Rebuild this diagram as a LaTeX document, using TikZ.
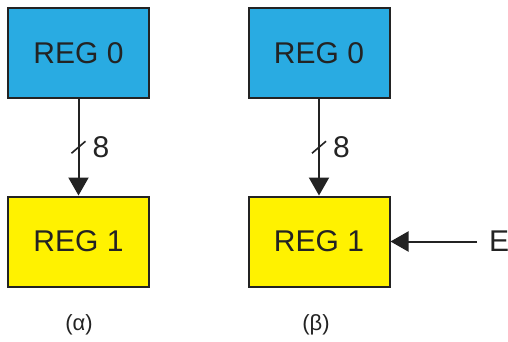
\documentclass[tikz,border=0pt]{standalone}
\usepackage{fontspec}
\setmainfont{Liberation Sans}
\usetikzlibrary{arrows.meta,calc}
\definecolor{regblue}{RGB}{41,171,226}
\definecolor{regyellow}{RGB}{255,242,0}
\definecolor{edgec}{RGB}{35,35,35}
\begin{document}
\begin{tikzpicture}[x=1pt,y=1pt,
  reg/.style={draw=edgec, line width=2pt, minimum width=141pt, minimum height=90pt, inner sep=0pt, font=\fontsize{30}{30}\selectfont, text=edgec},
  conn/.style={draw=edgec, line width=2pt, -{Triangle[length=18pt,width=20pt]}},
  slashline/.style={draw=edgec, line width=1.6pt},
  bigtxt/.style={font=\fontsize{30}{30}\selectfont, text=edgec, inner sep=0pt},
  captxt/.style={font=\fontsize{22}{22}\selectfont, text=edgec, inner sep=0pt}]
\useasboundingbox[fill=white] (0,0) rectangle (508,341);
% (alpha)
\node[reg, fill=regblue] (a0) at (78.5,288) {REG 0};
\node[reg, fill=regyellow] (a1) at (78.5,99.5) {REG 1};
\draw[conn] (a0) -- (a1);
\path (a0.south) -- (a1.north) coordinate[pos=0.5] (sa);
\draw[slashline] ($(sa)+(-7,-6)$) -- ($(sa)+(7,6)$);
\node[bigtxt, anchor=west] (na) at ($(sa)+(14,0)$) {8};
\node[captxt] (la) at (79,16) {(α)};
% (beta)
\node[reg, fill=regblue] (b0) at (319,288) {REG 0};
\node[reg, fill=regyellow] (b1) at (319,99.5) {REG 1};
\draw[conn] (b0) -- (b1);
\path (b0.south) -- (b1.north) coordinate[pos=0.5] (sb);
\draw[slashline] ($(sb)+(-7,-6)$) -- ($(sb)+(7,6)$);
\node[bigtxt, anchor=west] (nb) at ($(sb)+(14,0)$) {8};
\node[bigtxt, anchor=west] (E) at (489,99.5) {E};
\draw[conn] ([xshift=-12pt]E.west) -- (b1.east);
\node[captxt] (lb) at (316,16) {(β)};
\end{tikzpicture}
\end{document}
